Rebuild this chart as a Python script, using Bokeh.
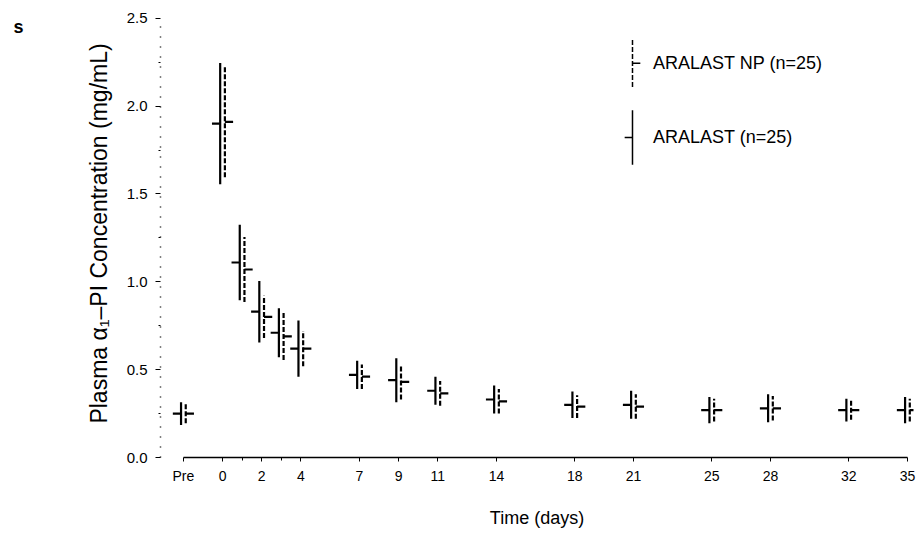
from bokeh.plotting import figure
from bokeh.models import Range1d, FixedTicker, LinearAxis
from bokeh.core.properties import value
from bokeh.embed import file_html
from bokeh.resources import INLINE

# ---- data -------------------------------------------------------------
# time point of each sample (days); "Pre" (pre-dose) is plotted at -2
time_days = [-2, 0, 1, 2, 3, 4, 7, 9, 11, 14, 18, 21, 25, 28, 32, 35]
tick_values = [-2, 0, 2, 4, 7, 9, 11, 14, 18, 21, 25, 28, 32, 35]
tick_labels = ["Pre", "0", "2", "4", "7", "9", "11", "14", "18", "21", "25", "28", "32", "35"]

aralast_mean = [0.25, 1.90, 1.11, 0.83, 0.71, 0.62, 0.47, 0.44, 0.38, 0.33, 0.30, 0.30, 0.27, 0.28, 0.27, 0.27]
aralast_sd = [0.065, 0.345, 0.215, 0.175, 0.14, 0.16, 0.08, 0.125, 0.08, 0.08, 0.075, 0.08, 0.075, 0.08, 0.065, 0.075]

np_mean = [0.25, 1.91, 1.07, 0.80, 0.69, 0.62, 0.46, 0.43, 0.365, 0.32, 0.29, 0.29, 0.27, 0.28, 0.27, 0.27]
np_sd = [0.055, 0.315, 0.185, 0.12, 0.135, 0.10, 0.07, 0.10, 0.07, 0.07, 0.065, 0.07, 0.065, 0.07, 0.055, 0.065]

series_names = ["ARALAST NP (n=25)", "ARALAST (n=25)"]

# ---- figure -------------------------------------------------------------
FONT = "Liberation Sans"
p = figure(width=919, height=534,
           x_range=Range1d(-3.17, 35.31), y_range=Range1d(0, 2.55),
           output_backend="svg", toolbar_location=None,
           min_border_left=160, min_border_right=6,
           min_border_top=9, min_border_bottom=77)
p.outline_line_color = None
p.xgrid.visible = False
p.ygrid.visible = False

# x axis
xa = p.xaxis[0]
xa.ticker = FixedTicker(ticks=tick_values, minor_ticks=[1, 3])
xa.major_label_overrides = {v: l for v, l in zip(tick_values, tick_labels)}
xa.bounds = (-2, 35)
xa.axis_line_width = 1.5
xa.axis_line_color = "black"
xa.major_tick_in = 0
xa.major_tick_out = 4
xa.minor_tick_in = 0
xa.minor_tick_out = 3
xa.major_tick_line_color = "black"
xa.major_label_text_font = FONT
xa.major_label_text_font_size = "14px"
xa.major_label_text_color = "black"
xa.major_label_standoff = 6
xa.axis_label = "Time (days)"
xa.axis_label_text_font = FONT
xa.axis_label_text_font_size = "18px"
xa.axis_label_text_font_style = "normal"
xa.axis_label_text_color = "black"
xa.axis_label_standoff = 21

# y axis
ya = p.yaxis[0]
ya.ticker = FixedTicker(ticks=[0, 0.5, 1.0, 1.5, 2.0, 2.5], minor_ticks=[0.25, 0.75, 1.25, 1.75, 2.25])
ya.major_label_overrides = {0: "0.0", 0.5: "0.5", 1.0: "1.0", 1.5: "1.5", 2.0: "2.0", 2.5: "2.5"}
ya.bounds = (0, 2.5)
ya.axis_line_color = "black"
ya.axis_line_width = 1.5
ya.axis_line_dash = "1 9"
ya.major_tick_in = 0
ya.major_tick_out = 5
ya.minor_tick_in = 0
ya.minor_tick_out = 2
ya.major_label_text_font = FONT
ya.major_label_text_font_size = "15px"
ya.major_label_text_color = "black"
ya.major_label_standoff = 8
ya.axis_label = "Plasma \u03b1\u2081\u2013PI Concentration (mg/mL)"
ya.axis_label_text_font = FONT
ya.axis_label_text_font_size = "23px"
ya.axis_label_text_font_style = "normal"
ya.axis_label_text_color = "black"
ya.axis_label_standoff = 12

# stray panel letter "s" at the top-left of the scanned figure, drawn as the
# single label of a bare, outer left axis
s_axis = LinearAxis(ticker=FixedTicker(ticks=[2.45]),
                    major_label_overrides={2.45: "s"},
                    axis_line_color=None, major_tick_line_color=None,
                    minor_tick_line_color=None,
                    major_label_standoff=53,
                    major_label_text_font=FONT,
                    major_label_text_font_size="18px",
                    major_label_text_font_style="bold",
                    major_label_text_color="black")
p.add_layout(s_axis, "left")

# ---- error bars -------------------------------------------------------------
OFF = 0.12      # horizontal offset of each series (days)
TICK = 0.42     # length of mean marker tick (days)
LW = 2.2

# ARALAST: solid bar, mean tick to the left
xa_ = [t - OFF for t in time_days]
p.segment(x0=xa_, x1=xa_,
          y0=[m - s for m, s in zip(aralast_mean, aralast_sd)],
          y1=[m + s for m, s in zip(aralast_mean, aralast_sd)],
          line_color="black", line_width=LW)
p.segment(x0=[x - TICK for x in xa_], x1=xa_, y0=aralast_mean, y1=aralast_mean,
          line_color="black", line_width=LW)

# ARALAST NP: dashed bar, mean tick to the right
xn_ = [t + OFF for t in time_days]
p.segment(x0=xn_, x1=xn_,
          y0=[m - s for m, s in zip(np_mean, np_sd)],
          y1=[m + s for m, s in zip(np_mean, np_sd)],
          line_color="black", line_width=LW, line_dash="5 2")
p.segment(x0=xn_, x1=[x + TICK for x in xn_], y0=np_mean, y1=np_mean,
          line_color="black", line_width=LW)

# ---- legend (custom, vertical bar keys) -----------------------------------------
LEG_X = 20.95
LEG_TX = 22.0
LEG_Y = [2.244, 1.822]
LEG_HALF = [0.135, 0.155]
p.segment(x0=[LEG_X], x1=[LEG_X], y0=[LEG_Y[0] - LEG_HALF[0]], y1=[LEG_Y[0] + LEG_HALF[0]],
          line_color="black", line_width=1.5, line_dash="5 2")
p.segment(x0=[LEG_X], x1=[LEG_X + 0.4], y0=[LEG_Y[0]], y1=[LEG_Y[0]],
          line_color="black", line_width=1.5)
p.segment(x0=[LEG_X], x1=[LEG_X], y0=[LEG_Y[1] - LEG_HALF[1]], y1=[LEG_Y[1] + LEG_HALF[1]],
          line_color="black", line_width=1.5)
p.segment(x0=[LEG_X - 0.4], x1=[LEG_X], y0=[LEG_Y[1]], y1=[LEG_Y[1]],
          line_color="black", line_width=1.5)
p.text(x=[LEG_TX, LEG_TX], y=LEG_Y, text=series_names,
       text_font=value(FONT), text_font_size="18px", text_color="black",
       text_align="left", text_baseline="middle")

open("out.html", "w").write(file_html(p, INLINE))
